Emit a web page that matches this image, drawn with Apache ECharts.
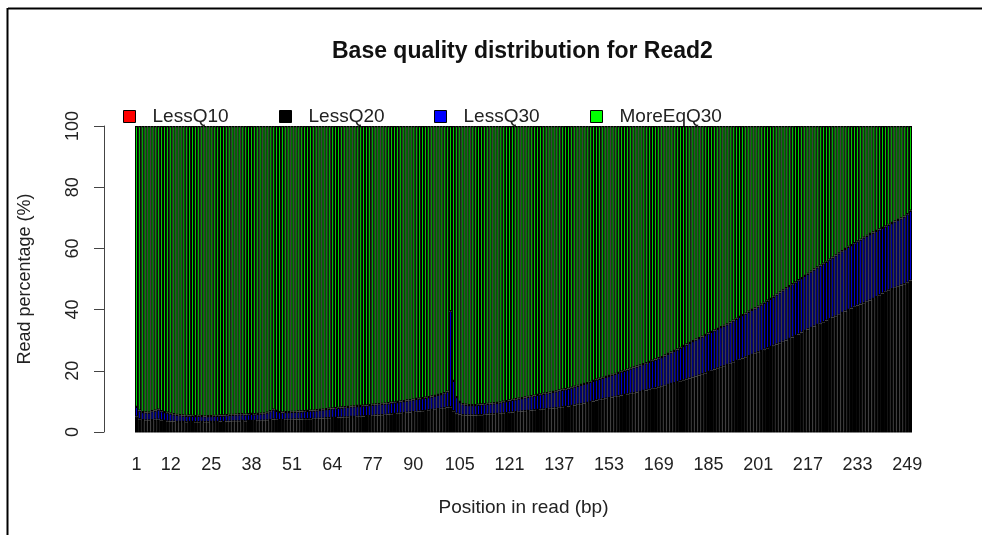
<!DOCTYPE html>
<html>
<head>
<meta charset="utf-8">
<script src="https://cdn.jsdelivr.net/npm/echarts@6/dist/echarts.min.js"></script>
<style>
html,body{margin:0;padding:0;background:#fff;}
#chart{width:982px;height:535px;}
</style>
</head>
<body>
<div id="chart"></div>
<script>
// Positions in read (bp)
const positions = Array.from({length: 250}, (_, i) => String(i + 1));
const xTickLabels = [1, 12, 25, 38, 51, 64, 77, 90, 105, 121, 137, 153, 169, 185, 201, 217, 233, 249];
const yTicks = [0, 20, 40, 60, 80, 100];
const seriesNames = ['LessQ10', 'LessQ20', 'LessQ30', 'MoreEqQ30'];

const lessQ10 = [
0,0,0,0,0,0,0,0,0,0, 0,0,0,0,0,0,0,0,0,0, 0,0,0,0,0,0,0,0,0,0, 0,0,0,0,0,0,0,0,0,0, 0,0,0,0,0,0,0,0,0,0,
0,0,0,0,0,0,0,0,0,0, 0,0,0,0,0,0,0,0,0,0, 0,0,0,0,0,0,0,0,0,0, 0,0,0,0,0,0,0,0,0,0, 0,0,0,0,0,0,0,0,0,0,
0,0,0,0,0,0,0,0,0,0, 0,0,0,0,0,0,0,0,0,0, 0,0,0,0,0,0,0,0,0,0, 0,0,0,0,0,0,0,0,0,0, 0,0,0,0,0,0,0,0,0,0,
0,0,0,0,0,0,0,0,0,0, 0,0,0,0,0,0,0,0,0,0, 0,0,0,0,0,0,0,0,0,0, 0,0,0,0,0,0,0,0,0,0, 0,0,0,0,0,0,0,0,0,0,
0,0,0,0,0,0,0,0,0,0, 0,0,0,0,0,0,0,0,0,0, 0,0,0,0,0,0,0,0,0,0, 0,0,0,0,0,0,0,0,0,0, 0,0,0,0,0,0,0,0,0,0
];

const lessQ20 = [
5.0,4.2,3.9,3.8,3.8,3.9,4.0,4.0,3.8,3.6,
3.5,3.4,3.4,3.3,3.3,3.3,3.2,3.3,3.3,3.2,
3.2,3.3,3.2,3.2,3.3,3.3,3.3,3.4,3.3,3.4,
3.4,3.5,3.5,3.5,3.6,3.5,3.6,3.6,3.6,3.7,
3.7,3.7,3.8,3.9,4.1,4.0,3.9,3.9,4.0,4.0,
4.0,4.1,4.1,4.1,4.2,4.2,4.2,4.3,4.3,4.4,
4.4,4.5,4.5,4.6,4.6,4.7,4.7,4.8,4.8,4.9,
4.9,5.0,5.0,5.1,5.2,5.2,5.3,5.4,5.4,5.5,
5.6,5.7,5.8,5.9,6.0,6.1,6.2,6.3,6.4,6.5,
6.6,6.7,6.8,6.9,7.1,7.2,7.3,7.5,7.6,7.8,
8.0,8.1,6.8,6.0,5.7,5.5,5.4,5.4,5.4,5.4,
5.5,5.5,5.6,5.7,5.8,5.8,5.9,6.0,6.1,6.2,
6.3,6.4,6.5,6.6,6.7,6.8,6.9,7.0,7.1,7.2,
7.3,7.4,7.5,7.6,7.7,7.8,7.9,8.1,8.2,8.3,
8.5,8.7,8.9,9.1,9.3,9.5,9.8,10.0,10.3,10.5,
10.7,10.9,11.1,11.3,11.5,11.7,11.9,12.1,12.3,12.5,
12.7,12.9,13.1,13.4,13.6,13.8,14.1,14.3,14.6,14.8,
15.1,15.4,15.7,16.0,16.3,16.6,16.9,17.2,17.5,17.8,
18.1,18.5,18.9,19.2,19.6,20.0,20.4,20.8,21.2,21.5,
21.9,22.3,22.8,23.2,23.6,24.0,24.4,24.8,25.2,25.7,
26.1,26.5,26.9,27.4,27.8,28.2,28.6,29.0,29.5,29.9,
30.4,30.9,31.4,31.9,32.5,33.0,33.5,34.0,34.5,35.0,
35.4,35.9,36.4,36.9,37.4,37.8,38.3,38.9,39.4,39.9,
40.4,40.9,41.3,41.7,42.1,42.6,43.0,43.5,44.1,44.7,
45.3,45.8,46.3,46.7,47.1,47.5,47.9,48.3,48.8,49.5
];

const lessQ30 = [
3.2,2.8,2.6,2.6,2.5,2.9,3.0,3.3,3.0,2.9,
2.8,2.6,2.4,2.3,2.2,2.1,2.1,2.1,2.0,2.0,
2.1,1.9,1.9,2.0,1.9,2.0,2.0,2.0,2.1,2.1,
2.2,2.1,2.2,2.3,2.2,2.2,2.2,2.3,2.2,2.2,
2.3,2.4,2.5,2.9,3.2,2.9,2.6,2.5,2.5,2.5,
2.6,2.5,2.6,2.6,2.6,2.7,2.8,2.7,2.8,2.8,
2.9,3.0,3.1,3.1,3.2,3.2,3.3,3.3,3.4,3.4,
3.5,3.5,3.5,3.5,3.5,3.6,3.6,3.6,3.7,3.7,
3.7,3.7,3.8,3.8,3.8,3.9,3.9,4.0,4.0,4.1,
4.2,4.2,4.3,4.3,4.3,4.4,4.5,4.6,4.8,4.9,
5.2,31.4,9.9,5.4,4.1,3.6,3.5,3.4,3.4,3.4,
3.4,3.5,3.5,3.5,3.5,3.6,3.6,3.7,3.8,3.9,
4.0,4.1,4.2,4.3,4.4,4.5,4.6,4.7,4.8,4.9,
5.0,5.1,5.2,5.3,5.4,5.5,5.7,5.7,5.8,5.9,
6.0,6.1,6.2,6.3,6.4,6.5,6.6,6.7,6.8,6.9,
7.0,7.1,7.2,7.4,7.5,7.6,7.8,7.9,8.1,8.2,
8.4,8.5,8.7,8.8,8.9,9.1,9.2,9.4,9.5,9.7,
9.9,10.1,10.3,10.5,10.7,10.9,11.2,11.4,11.6,11.9,
12.1,12.2,12.3,12.5,12.6,12.7,12.8,12.9,13.1,13.2,
13.3,13.5,13.6,13.8,14.0,14.2,14.3,14.5,14.7,14.7,
14.9,15.1,15.3,15.5,15.7,16.0,16.3,16.6,16.8,17.1,
17.3,17.4,17.5,17.7,17.8,18.0,18.2,18.4,18.6,18.8,
19.0,19.1,19.2,19.4,19.6,19.9,20.1,20.2,20.4,20.6,
20.7,20.8,21.0,21.2,21.4,21.5,21.7,21.7,21.6,21.5,
21.4,21.4,21.4,21.6,21.7,21.8,21.9,22.1,22.4,22.8
];

const moreEqQ30 = [
91.8,93.0,93.5,93.6,93.7,93.2,93.0,92.7,93.2,93.5,
93.7,94.0,94.2,94.4,94.5,94.6,94.7,94.6,94.7,94.8,
94.7,94.8,94.9,94.8,94.8,94.7,94.7,94.6,94.6,94.5,
94.4,94.4,94.3,94.2,94.2,94.3,94.2,94.1,94.2,94.1,
94.0,93.9,93.7,93.2,92.7,93.1,93.5,93.6,93.5,93.5,
93.4,93.4,93.3,93.3,93.2,93.1,93.0,93.0,92.9,92.8,
92.7,92.5,92.4,92.3,92.2,92.1,92.0,91.9,91.8,91.7,
91.6,91.5,91.5,91.4,91.3,91.2,91.1,91.0,90.9,90.8,
90.7,90.6,90.4,90.3,90.2,90.0,89.9,89.7,89.6,89.4,
89.2,89.1,88.9,88.8,88.6,88.4,88.2,87.9,87.6,87.3,
86.8,60.5,83.3,88.6,90.2,90.9,91.1,91.2,91.2,91.2,
91.1,91.0,90.9,90.8,90.7,90.6,90.5,90.3,90.1,89.9,
89.7,89.5,89.3,89.1,88.9,88.7,88.5,88.3,88.1,87.9,
87.7,87.5,87.3,87.1,86.9,86.7,86.4,86.2,86.0,85.8,
85.5,85.2,84.9,84.6,84.3,84.0,83.6,83.3,82.9,82.6,
82.3,82.0,81.7,81.3,81.0,80.7,80.3,80.0,79.6,79.3,
78.9,78.6,78.2,77.8,77.5,77.1,76.7,76.3,75.9,75.5,
75.0,74.5,74.0,73.5,73.0,72.5,71.9,71.4,70.9,70.3,
69.8,69.3,68.8,68.3,67.8,67.3,66.8,66.3,65.7,65.3,
64.8,64.2,63.6,63.0,62.4,61.8,61.3,60.7,60.1,59.6,
59.0,58.4,57.8,57.1,56.5,55.8,55.1,54.4,53.7,53.0,
52.3,51.7,51.1,50.4,49.7,49.0,48.3,47.6,46.9,46.2,
45.6,45.0,44.4,43.7,43.0,42.3,41.6,40.9,40.2,39.5,
38.9,38.3,37.7,37.1,36.5,35.9,35.3,34.8,34.3,33.8,
33.3,32.8,32.3,31.7,31.2,30.7,30.2,29.6,28.8,27.7
];

const seriesData = [lessQ10, lessQ20, lessQ30, moreEqQ30];
const seriesColors = ['#ff0000', '#000000', '#0000ff', '#00ff00'];
const legendLefts = [123, 279, 434, 590];

const FONT = '"Liberation Sans", Arial, Helvetica, sans-serif';
const chart = echarts.init(document.getElementById('chart'));

const option = {
  backgroundColor: '#ffffff',
  animation: false,
  textStyle: { fontFamily: FONT },
  title: {
    text: 'Base quality distribution for Read2',
    left: 332,
    top: 40,
    padding: 0,
    textStyle: { fontFamily: FONT, fontSize: 23, fontWeight: 'bold', color: '#111' }
  },
  legend: seriesNames.map((n, i) => ({
    data: [n],
    left: legendLefts[i],
    top: 107,
    padding: 0,
    icon: 'rect',
    itemWidth: 12,
    itemHeight: 12,
    itemStyle: { color: seriesColors[i], borderColor: '#000', borderWidth: 1 },
    textStyle: { fontFamily: FONT, fontSize: 19, color: '#222', padding: [0, 0, 0, 12] }
  })),
  grid: { left: 135, right: 70, top: 126, bottom: 103, containLabel: false },
  xAxis: {
    type: 'category',
    data: positions,
    boundaryGap: true,
    axisLine: { show: false },
    axisTick: { show: false },
    axisLabel: {
      interval: (idx, val) => xTickLabels.includes(Number(val)),
      fontFamily: FONT, fontSize: 18, color: '#222', margin: 24
    },
    name: 'Position in read (bp)',
    nameLocation: 'middle',
    nameGap: 66,
    nameTextStyle: { fontFamily: FONT, fontSize: 19, color: '#222' },
    splitLine: { show: false }
  },
  yAxis: {
    type: 'value',
    min: yTicks[0],
    max: yTicks[yTicks.length - 1],
    interval: 20,
    offset: 31,
    axisLine: { show: true, lineStyle: { color: '#444', width: 1 } },
    axisTick: { show: true, length: 10, lineStyle: { color: '#444', width: 1 } },
    axisLabel: { rotate: 90, fontFamily: FONT, fontSize: 18, color: '#222', margin: 22 },
    splitLine: { show: false },
    name: 'Read percentage (%)',
    nameLocation: 'middle',
    nameRotate: 90,
    nameGap: 70,
    nameTextStyle: { fontFamily: FONT, fontSize: 18, color: '#222' }
  },
  series: seriesNames.map((n, i) => ({
    name: n,
    type: 'bar',
    stack: 'total',
    data: seriesData[i],
    barCategoryGap: '0%',
    barGap: '0%',
    itemStyle: { color: seriesColors[i], borderColor: '#000', borderWidth: 1.15 },
    emphasis: { disabled: true }
  })),
  graphic: [
    { type: 'line', shape: { x1: 8, y1: 8.5, x2: 982, y2: 8.5 }, style: { stroke: '#000', lineWidth: 2 } },
    { type: 'line', shape: { x1: 7.5, y1: 8, x2: 7.5, y2: 535 }, style: { stroke: '#000', lineWidth: 2 } }
  ]
};
chart.setOption(option);
</script>
</body>
</html>
